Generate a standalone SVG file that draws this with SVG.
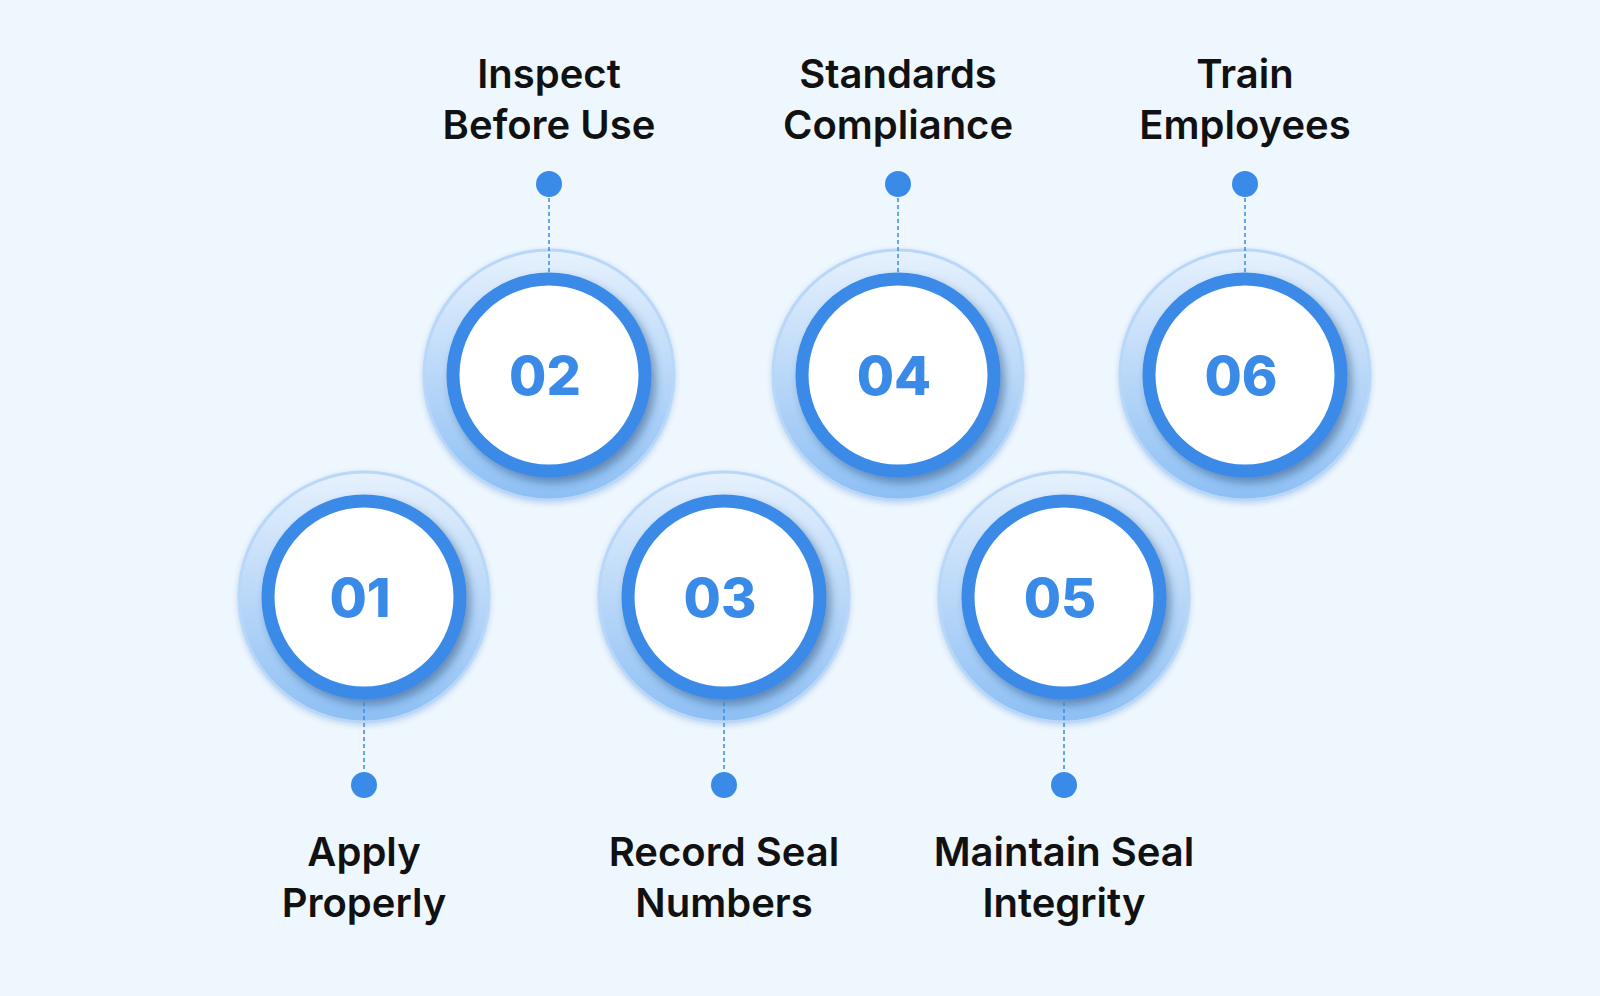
<svg xmlns="http://www.w3.org/2000/svg" width="1600" height="996" viewBox="0 0 1600 996">
<defs>
<linearGradient id="halo" x1="0" y1="0" x2="0" y2="1">
<stop offset="0" stop-color="#e6f1fd"/>
<stop offset="1" stop-color="#8dbff4"/>
</linearGradient>
<filter id="sh" x="-30%" y="-30%" width="160%" height="160%">
<feDropShadow dx="4" dy="5" stdDeviation="4" flood-color="#1a3a66" flood-opacity="0.45"/>
</filter>
<filter id="sh2" x="-30%" y="-30%" width="160%" height="160%">
<feDropShadow dx="0" dy="2" stdDeviation="3" flood-color="#6f9fd6" flood-opacity="0.4"/>
</filter>
<g id="node">
<circle r="125" fill="url(#halo)" stroke="#b9d7f8" stroke-width="3" filter="url(#sh2)"/>
<circle r="96" fill="#ffffff" stroke="#3a8ae8" stroke-width="13" filter="url(#sh)"/>
</g>
</defs>
<style>
.lbl{font-family:Inter,"Liberation Sans",sans-serif;font-weight:600;font-size:40px;fill:#111;text-anchor:middle}
.num{font-family:Inter,"Liberation Sans",sans-serif;font-weight:800;font-size:54px;fill:#3a8ae8;text-anchor:middle}
.dot{fill:#3a8ae8}
.dash{stroke:#3a8ae8;stroke-width:1.5;stroke-dasharray:4 3}
</style>
<rect width="1600" height="996" fill="#eff7fe"/>
<g id="n01"><use href="#node" x="364" y="597"/><text class="num" x="360" y="617">01</text><text class="lbl" x="364" y="866">Apply</text><text class="lbl" x="364" y="917">Properly</text></g>
<g id="n02"><use href="#node" x="549" y="375"/><text class="num" x="545" y="395">02</text><text class="lbl" x="549" y="88">Inspect</text><text class="lbl" x="549" y="139">Before Use</text></g>
<g id="n03"><use href="#node" x="724" y="597"/><text class="num" x="720" y="617">03</text><text class="lbl" x="724" y="866">Record Seal</text><text class="lbl" x="724" y="917">Numbers</text></g>
<g id="n04"><use href="#node" x="898" y="375"/><text class="num" x="894" y="395">04</text><text class="lbl" x="898" y="88">Standards</text><text class="lbl" x="898" y="139">Compliance</text></g>
<g id="n05"><use href="#node" x="1064" y="597"/><text class="num" x="1060" y="617">05</text><text class="lbl" x="1064" y="866">Maintain Seal</text><text class="lbl" x="1064" y="917">Integrity</text></g>
<g id="n06"><use href="#node" x="1245" y="375"/><text class="num" x="1241" y="395">06</text><text class="lbl" x="1245" y="88">Train</text><text class="lbl" x="1245" y="139">Employees</text></g>
<g id="connectors">
<line class="dash" x1="549" y1="184" x2="549" y2="272"/>
<line class="dash" x1="898" y1="184" x2="898" y2="272"/>
<line class="dash" x1="1245" y1="184" x2="1245" y2="272"/>
<line class="dash" x1="364" y1="702" x2="364" y2="785"/>
<line class="dash" x1="724" y1="702" x2="724" y2="785"/>
<line class="dash" x1="1064" y1="702" x2="1064" y2="785"/>
<circle class="dot" cx="549" cy="184" r="13"/>
<circle class="dot" cx="898" cy="184" r="13"/>
<circle class="dot" cx="1245" cy="184" r="13"/>
<circle class="dot" cx="364" cy="785" r="13"/>
<circle class="dot" cx="724" cy="785" r="13"/>
<circle class="dot" cx="1064" cy="785" r="13"/>
</g>
</svg>
